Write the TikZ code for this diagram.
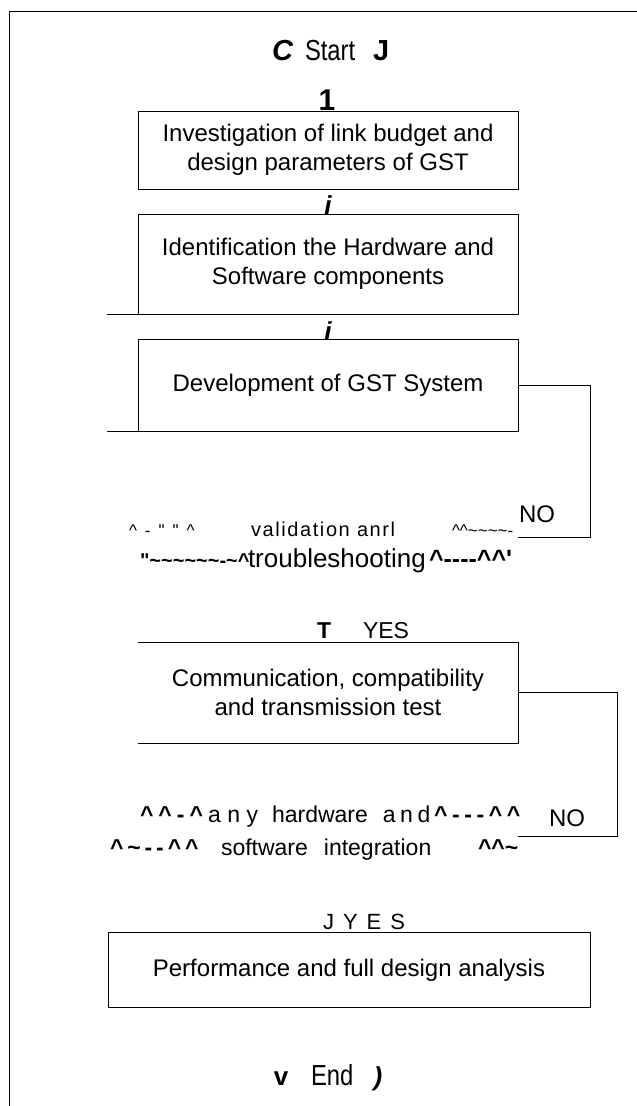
\documentclass[tikz,border=0pt]{standalone}
\usepackage{fontspec}
\setmainfont{Liberation Sans}
\newfontfamily\narrowfont[FakeStretch=0.82]{Liberation Sans}
\newcommand\crt{\textasciicircum}
\newcommand\tld{\textasciitilde}
\newcommand\fs[1]{\fontsize{#1}{#1}\selectfont}
\begin{document}
\begin{tikzpicture}[x=1pt,y=-1pt]
\tikzset{
  every node/.style={inner sep=0pt, outer sep=0pt},
  ln/.style={line width=1pt},
  boxnode/.style={align=center, minimum width=380pt, font=\fontsize{24}{29}\selectfont},
  tx/.style={anchor=base west},
  tc/.style={anchor=base},
  arrowglyph/.style={anchor=base, font=\fs{26}\bfseries\itshape},
}
\useasboundingbox (0,0) rectangle (637,1106);
% frame
\draw[ln] (637,11) -- (9,11) -- (9,1106);

% start
\node[tx, font=\fs{29}\bfseries\itshape] (sC) at (272,60) {C};
\node[tx, font=\fs{29}\narrowfont] (start) at (305,60) {Start};
\node[tx, font=\fs{29}\bfseries] (sJ) at (373,60) {J};
\node[tc, font=\fs{30}\bfseries] (a1) at (327,110) {1};

% box 1
\node[boxnode, minimum height=78pt] (b1) at (328,150) {Investigation of link budget and\\design parameters of GST};
\draw[ln] (b1.north west) rectangle (b1.south east);
\node[arrowglyph] (a2) at (328,214) {i};

% box 2
\node[boxnode, minimum height=100pt] (b2) at (328,264) {Identification the Hardware and\\Software components};
\draw[ln] (b2.south west) -- (b2.north west) -- (b2.north east) -- (b2.south east) -- ([xshift=-31pt]b2.south west);
\node[arrowglyph] (a3) at (328,340) {i};

% box 3
\node[boxnode, minimum height=92pt] (b3) at (328,385) {Development of GST System};
\draw[ln] (b3.south west) -- (b3.north west) -- (b3.north east) -- (b3.south east) -- ([xshift=-31pt]b3.south west);

% decision 1
\node[tx, font=\fs{17}] (d1l) at (129,536) {{\spaceskip=8pt\relax\crt{} - \textquotedbl{} \textquotedbl{} \crt}};
\node[tx, font=\fs{20}\addfontfeature{LetterSpace=8}] (d1m) at (251,536) {validation anrl};
\node[tx, font=\fs{17}] (d1r) at (452,536) {\crt\crt\tld\tld\tld\tld-};
\node[tx, font=\fs{20}\bfseries] (d2l) at (140,567) {\textquotedbl\tld\tld\tld\tld\tld\tld-\tld\crt};
\node[tx, font=\fs{26}] (d2m) at (248,567) {troubleshooting};
\node[tx, font=\fs{25}\bfseries] (d2r) at (429,567) {\crt-{}-{}-{}-\crt\crt\textquotesingle};
\coordinate (no1in) at (518,537);
\draw[ln] (b3.east) -- (590,385) |- (no1in);
\node[tx, font=\fs{24}] (no1) at (519,522) {NO};

% yes 1
\node[tx, font=\fs{23}\bfseries] (aT) at (317,638) {T};
\node[tx, font=\fs{23}] (yes1) at (363,638) {YES};

% box 4
\node[boxnode, minimum height=101pt] (b4) at (328,692.5) {Communication, compatibility\\and transmission test};
\draw[ln] (b4.north west) -- (b4.north east) -- (b4.south east) -- (b4.south west);

% decision 2
\node[tx, font=\fs{23}\bfseries\addfontfeature{LetterSpace=22}] (e1l) at (140,822) {\crt\crt-\crt};
\node[tx, font=\fs{23}] (e1m) at (208,822) {{\spaceskip=6.5pt\relax a n y}\hspace{14pt}hardware\hspace{15pt}{\spaceskip=4.5pt\relax a n d}};
\node[tx, font=\fs{23}\bfseries\addfontfeature{LetterSpace=20}] (e1r) at (434,822) {\crt-{}-{}-\crt\crt};
\node[tx, font=\fs{23}\bfseries\addfontfeature{LetterSpace=17}] (e2l) at (110,855) {\crt\tld-{}-\crt\crt};
\node[tx, font=\fs{23}] (e2m) at (221,855) {software\hspace{16pt}integration};
\node[tx, font=\fs{23}\bfseries] (e2r) at (478,855) {\crt\crt\tld};
\coordinate (no2in) at (518,836);
\draw[ln] (b4.east) -- (617,692.5) |- (no2in);
\node[tc, font=\fs{24}] (no2) at (567,826) {NO};

% yes 2
\node[tx, font=\fs{22}] (yes2) at (323,929) {{\spaceskip=9pt\relax J Y E S}};

% box 5
\node[boxnode, minimum width=482pt, minimum height=75pt] (b5) at (349,970) {Performance and full design analysis};
\draw[ln] (b5.north west) rectangle (b5.south east);

% end
\node[tc, font=\fs{26}\bfseries] (ev) at (281,1085) {v};
\node[tx, font=\fs{29}\narrowfont] (endn) at (311,1085) {End};
\node[tc, font=\fs{26}\bfseries\itshape] (ep) at (378,1085) {)};
\end{tikzpicture}
\end{document}
